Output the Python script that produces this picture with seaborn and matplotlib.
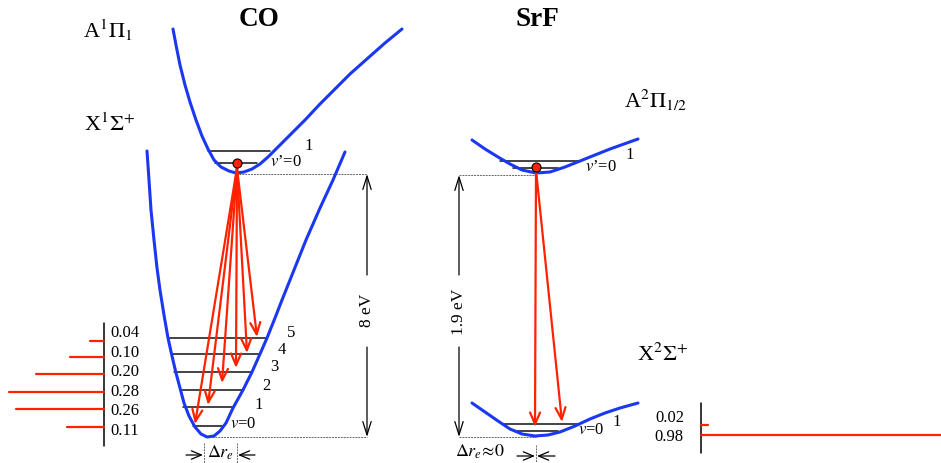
import numpy as np
import pandas as pd
import matplotlib
matplotlib.use("Agg")
import matplotlib.pyplot as plt
import seaborn as sns

# potential curves, points (pixel units, y down)
co_a_x = [173, 176, 180, 185, 190, 196, 202, 208, 214, 221, 229, 236, 244, 252, 260, 268,
          276, 290, 305, 320, 335, 350, 368, 385, 402]
co_a_y = [29, 45, 65, 85, 102, 120, 136, 149, 160, 167, 171, 173, 172, 169, 164, 157,
          149, 135, 120, 104, 89, 74, 58, 43, 29]
co_x_x = [147, 149, 151, 154, 157, 160, 164, 168, 172, 176, 180, 184, 189, 195, 201, 207,
          214, 220, 226, 233, 243, 252, 260, 267, 275, 282, 294, 306, 320, 333, 345]
co_x_y = [151, 180, 210, 240, 268, 290, 315, 338, 356, 373, 388, 403, 416, 427, 434, 437,
          436, 431, 423, 408, 390, 372, 354, 338, 318, 300, 270, 240, 208, 180, 152]
srf_a_x = [472, 485, 498, 510, 522, 536, 550, 565, 580, 595, 610, 624, 638]
srf_a_y = [140, 149, 157, 164, 170, 173, 172, 167, 161, 155, 149, 144, 139]
srf_x_x = [472, 485, 498, 510, 522, 535, 548, 560, 575, 590, 605, 620, 638]
srf_x_y = [403, 412, 421, 429, 434, 436, 435, 432, 426, 419, 413, 408, 403]

# vibrational levels: height, left end, right end
co_up_levels = [(163, 215, 257), (151, 208, 270)]
co_low_levels = [(426, 193, 222), (407, 183, 233), (390, 180, 243),
                 (372, 174, 252), (354, 172, 260), (338, 168, 267)]
srf_up_levels = [(168, 513, 558), (161, 500, 580)]
srf_low_levels = [(431, 515, 558), (424, 502, 578)]

# Franck-Condon factors
co_fc = [0.11, 0.26, 0.28, 0.20, 0.10, 0.04]
co_fc_y = [427, 409, 392, 374, 357, 341]
srf_fc = [0.98, 0.02]
srf_fc_y = [435, 425]

# arrow tips of the decays
co_tips = [(195, 424), (208, 405), (222, 383), (236, 368), (247, 353), (257, 337)]
srf_tips = [(535, 427), (562, 422)]

red = "#ff2200"
blue = "#1a38f2"
fc_scale = 340

sns.set_theme(style="white")
plt.rcParams["font.family"] = ["Liberation Serif", "DejaVu Sans"]
plt.rcParams["mathtext.fontset"] = "stix"
plt.rcParams["text.color"] = "black"

fig = plt.figure(figsize=(9.41, 4.63), dpi=100)
ax = fig.add_axes([0, 0, 1, 1])

for xs, ys in [(co_a_x, co_a_y), (co_x_x, co_x_y), (srf_a_x, srf_a_y), (srf_x_x, srf_x_y)]:
    df = pd.DataFrame({"r": xs, "E": ys})
    sns.lineplot(data=df, x="r", y="E", sort=False, ax=ax, color=blue, lw=2.2, zorder=3)
ax.set_xlim(0, 941)
ax.set_ylim(463, 0)
ax.axis("off")

for levels in [co_up_levels, co_low_levels, srf_up_levels, srf_low_levels]:
    for y, x0, x1 in levels:
        ax.plot([x0, x1], [y, y], color="#111111", lw=1.1, zorder=2)

# decay arrows
arrow_red = dict(arrowstyle="->,head_length=0.7,head_width=0.3", color=red, lw=1.6,
                 shrinkA=0, shrinkB=0)
for tip in co_tips:
    ax.annotate("", xy=tip, xytext=(237, 168), arrowprops=arrow_red, zorder=4)
for tip in srf_tips:
    ax.annotate("", xy=tip, xytext=(536, 170), arrowprops=arrow_red, zorder=4)
ax.plot([237], [163], "o", ms=6.5, mfc=red, mec="black", mew=0.8, zorder=5)
ax.plot([536], [167], "o", ms=6.5, mfc=red, mec="black", mew=0.8, zorder=5)

# energy gaps
dash = dict(color="#666666", lw=0.7, ls=(0, (2, 1)))
ax.plot([236, 367], [174, 174], **dash)
ax.plot([212, 367], [437, 437], **dash)
ax.plot([459, 536], [175, 175], **dash)
ax.plot([459, 536], [437, 437], **dash)
arrow_k = dict(arrowstyle="->,head_length=0.8,head_width=0.25", color="black", lw=0.9,
               shrinkA=0, shrinkB=0)
ax.annotate("", xy=(367, 174), xytext=(367, 275), arrowprops=arrow_k)
ax.annotate("", xy=(367, 437), xytext=(367, 347), arrowprops=arrow_k)
ax.text(367, 310, "8 eV", rotation=90, ha="center", va="center", fontsize=12.5)
ax.annotate("", xy=(459, 175), xytext=(459, 275), arrowprops=arrow_k)
ax.annotate("", xy=(459, 437), xytext=(459, 347), arrowprops=arrow_k)
ax.text(459, 312, "1.9 eV", rotation=90, ha="center", va="center", fontsize=12.5)

# delta r_e marks
arrow_s = dict(arrowstyle="->,head_length=0.6,head_width=0.25", color="black", lw=0.9,
               shrinkA=0, shrinkB=0)
ax.plot([204, 204], [443, 463], **dash)
ax.plot([237, 237], [443, 463], **dash)
ax.annotate("", xy=(203, 455), xytext=(186, 455), arrowprops=arrow_s)
ax.annotate("", xy=(238, 455), xytext=(255, 455), arrowprops=arrow_s)
ax.text(221, 453, r"$\Delta r_e$", ha="center", va="center", fontsize=13)
ax.plot([536, 536], [445, 463], **dash)
ax.annotate("", xy=(535, 456), xytext=(517, 456), arrowprops=arrow_s)
ax.annotate("", xy=(537, 456), xytext=(555, 456), arrowprops=arrow_s)
ax.text(480, 452, r"$\Delta r_e\!\approx\!0$", ha="center", va="center", fontsize=13)

# Franck-Condon bars
ax.plot([104, 104], [323, 446], color="black", lw=1.1)
for f, y in zip(co_fc, co_fc_y):
    ax.plot([104 - f * fc_scale, 104], [y, y], color=red, lw=1.6)
for i, f in enumerate(co_fc):
    ax.text(110, 431 - i * 19.6, f"{f:.2f}", ha="left", va="center", fontsize=12)
ax.plot([701, 701], [403, 453], color="black", lw=1.1)
for f, y in zip(srf_fc, srf_fc_y):
    ax.plot([701, 701 + f * fc_scale], [y, y], color=red, lw=1.6)
ax.text(684, 437, f"{srf_fc[0]:.2f}", ha="right", va="center", fontsize=12)
ax.text(684, 418, f"{srf_fc[1]:.2f}", ha="right", va="center", fontsize=12)

# level labels
ax.text(270, 162, "$v$\u2019=0", ha="left", va="center", fontsize=12)
ax.text(304, 146, "1", ha="left", va="center", fontsize=12)
for lab, (x, y) in zip(["$v$=0", "1", "2", "3", "4", "5"],
                       [(230, 424), (254, 405), (262, 386), (270, 367), (278, 350), (287, 333)]):
    ax.text(x, y, lab, ha="left", va="center", fontsize=12)
ax.text(585, 167, "$v$\u2019=0", ha="left", va="center", fontsize=12)
ax.text(625, 155, "1", ha="left", va="center", fontsize=12)
ax.text(578, 430, "$v$=0", ha="left", va="center", fontsize=12)
ax.text(612, 422, "1", ha="left", va="center", fontsize=12)

# state and molecule labels
ax.text(259, 20, "CO", ha="center", va="center", fontsize=19.5, fontweight="bold")
ax.text(537, 20, "SrF", ha="center", va="center", fontsize=19.5, fontweight="bold")
ax.text(83, 30, r"A$^1\Pi_1$", ha="left", va="center", fontsize=16)
ax.text(84, 125, r"X$^1\Sigma^{+}$", ha="left", va="center", fontsize=16)
ax.text(624, 100, r"A$^2\Pi_{1/2}$", ha="left", va="center", fontsize=16)
ax.text(637, 355, r"X$^2\Sigma^{+}$", ha="left", va="center", fontsize=16)

fig.savefig("out.png", dpi=100)
